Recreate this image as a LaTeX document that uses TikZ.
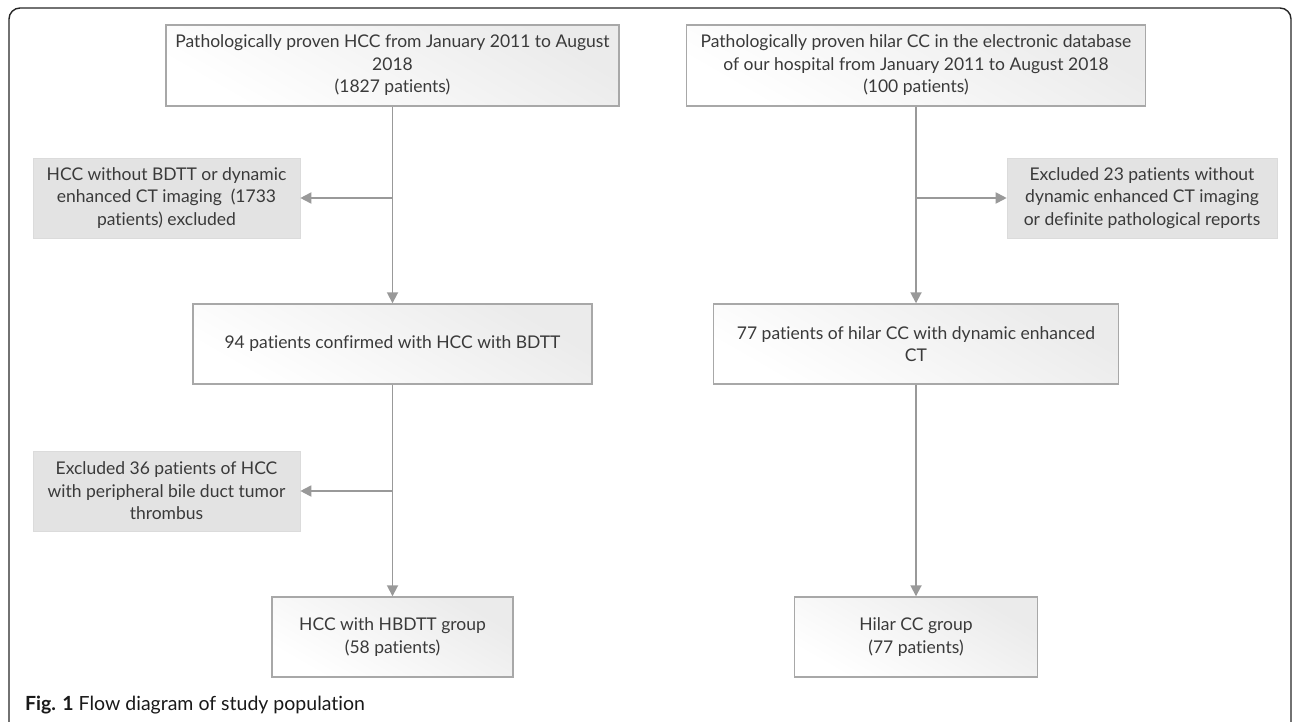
\documentclass[tikz,border=0pt]{standalone}
\usepackage{fontspec}
\setmainfont{Lato}[Ligatures=NoCommon]
\usetikzlibrary{arrows.meta}
\definecolor{boxline}{HTML}{A8A8A8}
\definecolor{exfill}{HTML}{E3E3E3}
\definecolor{arrowgray}{HTML}{999999}
\definecolor{txt}{HTML}{3A3A3A}
\tikzset{
  mainbox/.style={draw=boxline, line width=1.4pt, left color=white, middle color=white, right color=black!8, shading angle=150,
    align=center, text=txt, font=\fontsize{17.5}{22.5}\selectfont, inner sep=0pt},
  exbox/.style={fill=exfill, draw=black!14, line width=0.6pt, align=center, text=txt, font=\fontsize{17.5}{22.5}\selectfont, inner sep=0pt,
    minimum width=267pt, minimum height=80pt},
  conn/.style={draw=arrowgray, line width=1.8pt},
  arr/.style={conn, -{Triangle[length=11pt,width=11pt]}}
}
\begin{document}
\begin{tikzpicture}[x=1pt,y=-1pt]
\useasboundingbox (0,0) rectangle (1293,722);
% frame
\draw[black!85, line width=1.4pt, rounded corners=11pt] (9,723) -- (9,8) -- (1291,8) -- (1291,723);
% left column
\node[mainbox, minimum width=453pt, minimum height=81pt] (A) at (392.5,65.5)
  {Pathologically proven HCC from January 2011 to August\\2018\\(1827 patients)};
\node[exbox] (X1) at (166.5,198)
  {HCC without BDTT or dynamic\\enhanced CT imaging\ \ (1733\\patients) excluded};
\node[mainbox, minimum width=399pt, minimum height=80pt] (B) at (392.5,344)
  {94 patients confirmed with HCC with BDTT};
\node[exbox] (X2) at (166.5,491)
  {Excluded 36 patients of HCC\\with peripheral bile duct tumor\\thrombus};
\node[mainbox, minimum width=241pt, minimum height=80pt] (C) at (392.5,637)
  {HCC with HBDTT group\\(58 patients)};
% right column
\node[mainbox, minimum width=459pt, minimum height=81pt] (D) at (916,65.5)
  {Pathologically proven hilar CC in the electronic database\\of our hospital from January 2011 to August 2018\\(100 patients)};
\node[exbox, minimum width=270pt] (X3) at (1142,198)
  {Excluded 23 patients without\\dynamic enhanced CT imaging\\or definite pathological reports};
\node[mainbox, minimum width=405pt, minimum height=80pt] (E) at (916,344)
  {77 patients of hilar CC with dynamic enhanced\\CT};
\node[mainbox, minimum width=243pt, minimum height=80pt] (F) at (916,637)
  {Hilar CC group\\(77 patients)};
% connectors
\draw[arr] (A.south) -- (B.north);
\draw[arr] (A.south |- X1.east) -- (X1.east);
\draw[arr] (B.south) -- (C.north);
\draw[arr] (B.south |- X2.east) -- (X2.east);
\draw[arr] (D.south) -- (E.north);
\draw[arr] (D.south |- X3.west) -- (X3.west);
\draw[arr] (E.south) -- (F.north);
% caption
\node[anchor=base west, font=\fontsize{19.5}{22}\selectfont, text=black!90, inner sep=0pt] (cap) at (25,710)
  {\textbf{Fig. 1} Flow diagram of study population};
\end{tikzpicture}
\end{document}
